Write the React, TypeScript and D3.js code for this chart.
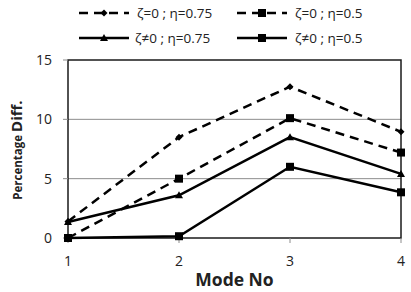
import React from "react";
import * as d3 from "d3";

const modes = [1, 2, 3, 4];
const yTicks = [0, 5, 10, 15];
const s1 = [1.4, 8.5, 12.75, 8.95]; // ζ=0 ; η=0.75
const s2 = [0.0, 5.0, 10.1, 7.2]; // ζ=0 ; η=0.5
const s3 = [1.35, 3.6, 8.5, 5.4]; // ζ≠0 ; η=0.75
const s4 = [0.0, 0.15, 6.0, 3.85]; // ζ≠0 ; η=0.5
const labels = ["ζ=0 ; η=0.75", "ζ=0 ; η=0.5", "ζ≠0 ; η=0.75", "ζ≠0 ; η=0.5"];

const W = 411, H = 292;
const M = { left: 68, right: 10, top: 60, bottom: 54 };

const series = [
  { values: s1, dashed: true, marker: "diamond", label: labels[0] },
  { values: s2, dashed: true, marker: "square", label: labels[1] },
  { values: s3, dashed: false, marker: "triangle", label: labels[2] },
  { values: s4, dashed: false, marker: "square", label: labels[3] },
];

const font = "'Open Sans', 'DejaVu Sans', sans-serif";

function Marker({ type, x, y }: { type: string; x: number; y: number }) {
  if (type === "square") return <rect x={x - 4} y={y - 4} width={8} height={8} fill="#000" />;
  if (type === "diamond") {
    const r = 3.5;
    return <path d={`M${x},${y - r}L${x + r},${y}L${x},${y + r}L${x - r},${y}Z`} fill="#000" />;
  }
  const r = 4;
  return <path d={`M${x},${y - r}L${x + r},${y + r * 0.75}L${x - r},${y + r * 0.75}Z`} fill="#000" />;
}

export default function App() {
  const x = d3.scaleLinear().domain([1, 4]).range([M.left, W - M.right]);
  const y = d3.scaleLinear().domain([0, 15]).range([H - M.bottom, M.top]);
  const line = d3.line<number>().x((_, i) => x(modes[i])).y((d) => y(d));

  const legendPos = [
    { lx: 79, tx: 137, ly: 13 },
    { lx: 237, tx: 295, ly: 13 },
    { lx: 79, tx: 135, ly: 38 },
    { lx: 237, tx: 295, ly: 38 },
  ];

  return (
    <svg width={W} height={H} style={{ position: "absolute", left: 0, top: 0, background: "#fff" }}>
      {yTicks.filter((t) => t > 0 && t < 15).map((t) => (
        <line key={t} x1={x(1)} x2={x(4)} y1={y(t)} y2={y(t)} stroke="#8c8c8c" strokeWidth={1} />
      ))}
      <rect x={x(1)} y={y(15)} width={x(4) - x(1)} height={y(0) - y(15)} fill="none" stroke="#1a1a1a" strokeWidth={1.5} />
      {modes.map((m) => (
        <g key={m}>
          <line x1={x(m)} x2={x(m)} y1={y(0)} y2={y(0) + 5} stroke="#8c8c8c" />
          <text x={x(m)} y={y(0) + 28} textAnchor="middle" fontFamily={font} fontSize={14} fill="#222">{m}</text>
        </g>
      ))}
      {yTicks.map((t) => (
        <g key={t}>
          <line x1={x(1) - 5} x2={x(1)} y1={y(t)} y2={y(t)} stroke="#8c8c8c" />
          <text x={x(1) - 16} y={y(t)} dy="0.35em" textAnchor="end" fontFamily={font} fontSize={14} fill="#222">{t}</text>
        </g>
      ))}
      {series.map((s, i) => (
        <g key={i}>
          <path d={line(s.values) || ""} fill="none" stroke="#000" strokeWidth={2.5}
            strokeDasharray={s.dashed ? "9,6" : undefined} />
          {s.values.map((v, j) => (
            <Marker key={j} type={s.marker} x={x(modes[j])} y={y(v)} />
          ))}
        </g>
      ))}
      {series.map((s, i) => {
        const p = legendPos[i];
        return (
          <g key={"l" + i}>
            <line x1={p.lx} x2={p.lx + 50} y1={p.ly} y2={p.ly} stroke="#000" strokeWidth={2.5}
              strokeDasharray={s.dashed ? "9,6" : undefined} />
            <Marker type={s.marker} x={p.lx + 25} y={p.ly} />
            <text x={p.tx} y={p.ly} dy="0.35em" fontFamily={font} fontSize={13.5} fill="#222">{s.label}</text>
          </g>
        );
      })}
      <text transform={`translate(22,150) rotate(-90)`} textAnchor="middle" fontFamily={font} fontWeight="bold" fill="#222">
        <tspan fontSize={11.5}>Percentage </tspan>
        <tspan fontSize={15}>Diff.</tspan>
      </text>
      <text x={(x(1) + x(4)) / 2} y={286} textAnchor="middle" fontFamily={font} fontWeight="bold" fontSize={17.5} fill="#222">Mode No</text>
    </svg>
  );
}
